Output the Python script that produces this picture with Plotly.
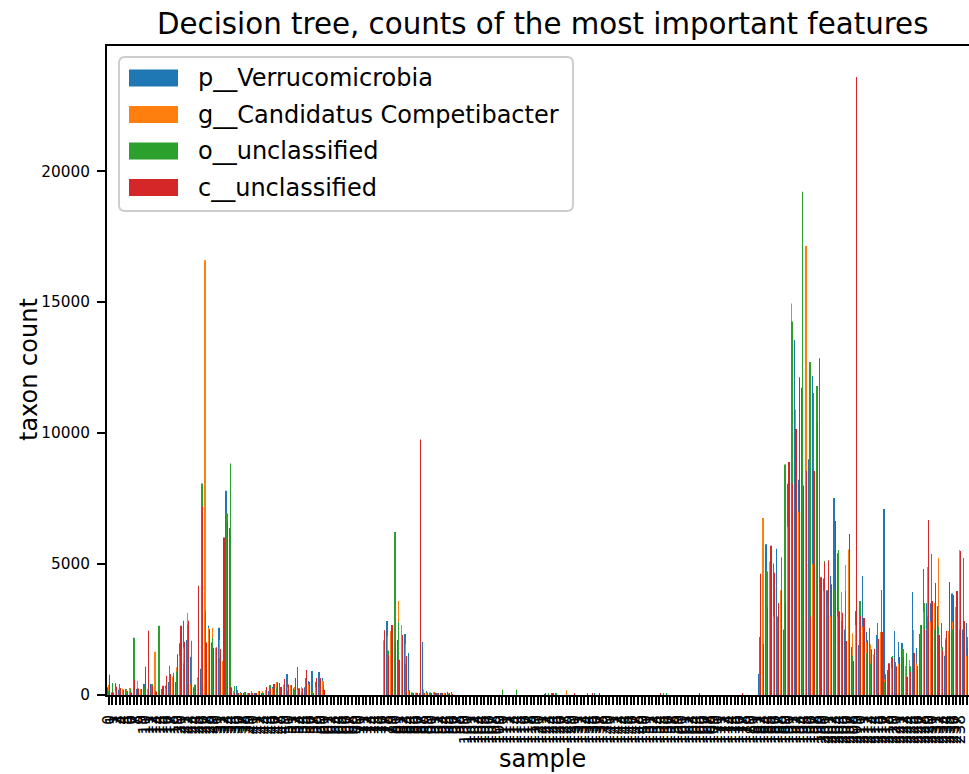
import plotly.graph_objects as go

# Sample index shown on the x axis
samples = list(range(243))
sample_labels = [str(s) for s in samples]

series_names = ["p__Verrucomicrobia", "g__Candidatus Competibacter",
                "o__unclassified", "c__unclassified"]
series_colors = ["#1f77b4", "#ff7f0e", "#2ca02c", "#d62728"]

# Counts per sample for each of the four most important taxa
verrucomicrobia = [
    300, 100, 458, 200, 150, 229, 150, 190, 229, 200,
    420, 150, 420, 547, 250, 230, 356, 500, 636, 500,
    1972, 2837, 2100, 1463, 300, 661, 1000, 600, 2646, 2000,
    1348, 2569, 1200, 7797, 6373, 100, 343, 115, 80, 60,
    140, 50, 60, 40, 100, 150, 305, 483, 458, 343,
    801, 200, 254, 1068, 150, 300, 534, 916, 496, 878,
    649, 0, 0, 0, 0, 0, 0, 0, 0, 0,
    0, 0, 0, 0, 0, 0, 0, 200, 2824, 2300,
    2442, 2100, 1043, 2328, 1603, 100, 50, 60, 2022, 153,
    100, 60, 50, 60, 89, 127, 115, 0, 0, 0,
    0, 0, 0, 0, 0, 0, 0, 0, 0, 0,
    0, 0, 0, 0, 0, 0, 0, 0, 0, 0,
    0, 0, 30, 0, 50, 0, 0, 0, 0, 0,
    0, 0, 0, 0, 40, 0, 40, 0, 0, 0,
    0, 0, 0, 0, 0, 0, 0, 0, 0, 0,
    0, 0, 0, 0, 0, 0, 0, 0, 0, 0,
    0, 0, 0, 0, 0, 0, 0, 0, 0, 0,
    0, 0, 0, 0, 0, 0, 0, 0, 0, 0,
    0, 0, 800, 1404, 5756, 1840, 5023, 5585, 1856, 2500,
    8065, 8284, 13556, 8221, 11731, 15616, 9000, 12184, 11029, 12854,
    4446, 4000, 4540, 7519, 5413, 3434, 2500, 2315, 1832, 3205,
    1908, 4541, 2404, 2557, 1200, 2290, 1500, 7098, 954, 1450,
    2442, 2022, 1984, 900, 800, 3930, 1793, 2328, 4808, 3500,
    3500, 3000, 3396, 2747, 1500, 2099, 3880, 3282, 2000, 2500,
    2747, 2200, 1800,
]

competibacter = [
    380, 80, 150, 267, 250, 200, 267, 150, 547, 229,
    150, 240, 300, 1654, 200, 150, 250, 700, 700, 1056,
    1500, 1800, 3142, 400, 394, 600, 4745, 16600, 2556, 2556,
    1800, 2111, 1300, 6000, 6017, 150, 100, 50, 50, 80,
    60, 60, 153, 153, 190, 250, 250, 483, 300, 400,
    300, 381, 305, 200, 305, 200, 400, 100, 300, 190,
    534, 0, 0, 0, 0, 0, 0, 0, 0, 0,
    0, 0, 0, 0, 0, 0, 0, 2086, 2239, 2442,
    2500, 3587, 2671, 1933, 150, 60, 100, 80, 216, 80,
    80, 115, 60, 89, 60, 40, 30, 0, 0, 0,
    0, 0, 0, 0, 0, 0, 0, 0, 0, 0,
    0, 0, 0, 0, 0, 0, 0, 0, 0, 0,
    0, 0, 0, 40, 0, 40, 0, 0, 178, 0,
    0, 0, 0, 0, 0, 0, 0, 0, 0, 0,
    0, 0, 0, 0, 0, 0, 0, 0, 0, 0,
    0, 0, 0, 0, 0, 0, 0, 0, 0, 0,
    0, 0, 0, 0, 0, 0, 0, 0, 0, 0,
    0, 0, 0, 0, 0, 0, 0, 0, 0, 0,
    0, 0, 1200, 6755, 1716, 5086, 3000, 2000, 4000, 6084,
    6427, 14945, 10904, 7000, 6583, 17144, 11263, 5000, 4500, 3978,
    3978, 2262, 3000, 3500, 3000, 3930, 4961, 5559, 2353, 2671,
    2500, 2608, 2000, 1933, 1552, 1500, 2404, 600, 534, 1018,
    1000, 1200, 1400, 1107, 1336, 2480, 1200, 1500, 3180, 4884,
    2800, 3511, 5228, 1800, 2175, 2442, 2800, 3358, 5533, 2000,
    1500, 2500, 1600,
]

o_unclassified = [
    165, 458, 100, 420, 200, 120, 229, 2188, 100, 100,
    318, 100, 420, 150, 2646, 229, 300, 1119, 852, 900,
    1806, 1200, 2684, 2073, 394, 2684, 8077, 3218, 2400, 2175,
    1500, 1400, 3791, 6932, 8840, 343, 190, 60, 115, 40,
    76, 40, 40, 60, 120, 381, 200, 300, 200, 250,
    153, 150, 200, 150, 100, 649, 300, 150, 200, 300,
    400, 0, 0, 0, 0, 0, 0, 0, 0, 0,
    0, 0, 0, 0, 0, 0, 0, 2022, 1700, 2300,
    6220, 2786, 687, 1200, 100, 40, 40, 50, 100, 60,
    100, 40, 40, 40, 40, 30, 20, 0, 0, 0,
    0, 0, 0, 0, 0, 0, 0, 0, 0, 0,
    204, 0, 0, 0, 204, 0, 0, 0, 0, 0,
    0, 0, 50, 50, 0, 40, 0, 0, 0, 0,
    0, 0, 0, 0, 0, 0, 0, 0, 0, 0,
    0, 0, 0, 0, 0, 0, 0, 0, 0, 0,
    0, 0, 0, 0, 0, 60, 60, 0, 0, 0,
    0, 0, 0, 0, 0, 0, 0, 0, 0, 0,
    0, 0, 0, 0, 0, 0, 0, 0, 0, 0,
    0, 0, 2213, 1000, 4711, 2886, 2500, 3000, 5257, 8798,
    6000, 14258, 6000, 7000, 19219, 6115, 12714, 11528, 11794, 4000,
    5117, 3500, 3385, 4000, 5538, 2824, 3969, 4808, 1500, 2000,
    3587, 1500, 1615, 1200, 1000, 2747, 4007, 500, 800, 1488,
    1259, 1000, 1755, 1603, 1100, 216, 1107, 2671, 3511, 3000,
    5381, 2500, 2633, 1832, 2086, 2786, 2500, 3000, 2500, 5228,
    2213, 1800, 2100,
]

c_unclassified = [
    776, 100, 318, 267, 200, 150, 100, 572, 250, 229,
    1081, 2455, 356, 130, 180, 356, 738, 801, 738, 1552,
    2646, 2035, 2837, 400, 394, 4172, 7200, 2000, 2518, 1800,
    1819, 1755, 6017, 6589, 300, 80, 60, 50, 40, 50,
    40, 76, 153, 80, 305, 254, 420, 483, 305, 610,
    400, 381, 649, 254, 254, 954, 496, 76, 649, 649,
    200, 0, 0, 0, 0, 0, 0, 0, 0, 0,
    0, 0, 0, 0, 0, 0, 0, 2468, 1526, 2671,
    2000, 1348, 2290, 1488, 178, 50, 60, 9756, 80, 100,
    60, 90, 70, 60, 50, 40, 30, 0, 0, 0,
    0, 0, 0, 0, 0, 0, 0, 0, 0, 0,
    0, 0, 0, 0, 0, 0, 0, 0, 0, 0,
    0, 0, 40, 0, 50, 0, 0, 0, 0, 0,
    50, 0, 0, 0, 0, 40, 0, 40, 0, 0,
    0, 0, 0, 0, 0, 0, 0, 0, 0, 0,
    0, 0, 0, 0, 60, 0, 0, 0, 0, 0,
    0, 0, 0, 0, 0, 40, 0, 0, 0, 0,
    0, 0, 0, 0, 0, 0, 0, 50, 0, 0,
    0, 0, 4633, 1950, 3354, 5694, 4664, 3510, 3978, 3500,
    8892, 8081, 10156, 12137, 8000, 8549, 3000, 8549, 10421, 4500,
    5070, 5148, 4228, 6646, 3200, 3142, 2061, 6144, 1300, 23600,
    3015, 2938, 2086, 1743, 1768, 2137, 2404, 789, 1208, 1400,
    1100, 1450, 1450, 700, 878, 1603, 979, 2671, 2500, 6678,
    3587, 4274, 2290, 1700, 2442, 4312, 3816, 3969, 5495, 2824,
    1800, 2000, 1500,
]

series_values = [verrucomicrobia, competibacter, o_unclassified, c_unclassified]

W, H = 969, 774
PL, PR, PT, PB = 107, 969, 46, 695   # plot area in pixels
FONT = "DejaVu Sans"
TICK_SIZE = 15.3


def fx(px):
    return (px - PL) / (PR - PL)


def fy(py):
    return (PB - py) / (PB - PT)


fig = go.Figure()
for name, color, vals in zip(series_names, series_colors, series_values):
    fig.add_trace(go.Bar(
        x=samples, y=vals, name=name,
        marker=dict(color=color, line=dict(width=0)),
        showlegend=False,
    ))

# x range: each sample slot is 3.576 px wide; the axes run past the right edge
slot_px = 3.576
x_hi = -0.5 + (PR - PL) / slot_px
y_hi = max(max(v) for v in series_values) * 1.05

fig.update_layout(
    width=W, height=H,
    margin=dict(l=PL, r=W - PR, t=PT, b=H - PB, pad=0),
    paper_bgcolor="white", plot_bgcolor="white",
    barmode="group", bargap=0.5, bargroupgap=0.4,
    font=dict(family=FONT, color="black"),
    xaxis=dict(
        range=[-0.5, x_hi], tickmode="array", tickvals=samples,
        ticktext=sample_labels, tickangle=-90,
        tickfont=dict(family=FONT, size=TICK_SIZE, color="black"),
        ticks="outside", ticklen=8, tickwidth=1.9, tickcolor="black",
        ticklabelstandoff=4,
        showline=True, linecolor="black", linewidth=1.9, mirror=True,
        showgrid=False, zeroline=False,
    ),
    yaxis=dict(
        range=[0, y_hi], tickmode="array",
        tickvals=[0, 5000, 10000, 15000, 20000],
        ticktext=["0", "5000", "10000", "15000", "20000"],
        tickfont=dict(family=FONT, size=TICK_SIZE, color="black"),
        ticks="outside", ticklen=8, tickwidth=1.9, tickcolor="black",
        ticklabelstandoff=4,
        showline=True, linecolor="black", linewidth=1.9,
        showgrid=False, zeroline=False,
    ),
)

annotations = [
    dict(text="Decision tree, counts of the most important features",
         x=fx(542), y=fy(24), xref="paper", yref="paper",
         xanchor="center", yanchor="middle", showarrow=False,
         font=dict(family=FONT, size=29.3, color="black")),
    dict(text="taxon count", x=fx(29), y=fy(370), xref="paper", yref="paper",
         xanchor="center", yanchor="middle", showarrow=False, textangle=-90,
         font=dict(family=FONT, size=24, color="black")),
    dict(text="sample", x=fx(542), y=fy(759), xref="paper", yref="paper",
         xanchor="center", yanchor="middle", showarrow=False,
         font=dict(family=FONT, size=24, color="black")),
]

# Legend box with rounded corners
bx0, bx1, by0, by1, r = 119, 573, 57, 211, 6
path = (
    f"M {fx(bx0 + r)},{fy(by0)} L {fx(bx1 - r)},{fy(by0)} "
    f"Q {fx(bx1)},{fy(by0)} {fx(bx1)},{fy(by0 + r)} "
    f"L {fx(bx1)},{fy(by1 - r)} Q {fx(bx1)},{fy(by1)} {fx(bx1 - r)},{fy(by1)} "
    f"L {fx(bx0 + r)},{fy(by1)} Q {fx(bx0)},{fy(by1)} {fx(bx0)},{fy(by1 - r)} "
    f"L {fx(bx0)},{fy(by0 + r)} Q {fx(bx0)},{fy(by0)} {fx(bx0 + r)},{fy(by0)} Z"
)
shapes = [dict(type="path", path=path, xref="paper", yref="paper",
               fillcolor="rgba(255,255,255,0.8)",
               line=dict(color="#cccccc", width=1.9), layer="above")]

row_centers = [78, 114.5, 151, 187.5]
for name, color, yc in zip(series_names, series_colors, row_centers):
    shapes.append(dict(type="rect", xref="paper", yref="paper",
                       x0=fx(129), x1=fx(178), y0=fy(yc - 8.5), y1=fy(yc + 8.5),
                       fillcolor=color, line=dict(width=0), layer="above"))
    annotations.append(dict(text=name, x=fx(196), y=fy(yc), xref="paper",
                            yref="paper", xanchor="left", yanchor="middle",
                            showarrow=False,
                            font=dict(family=FONT, size=24, color="black")))

fig.update_layout(shapes=shapes, annotations=annotations)
fig.write_html("out.html")
